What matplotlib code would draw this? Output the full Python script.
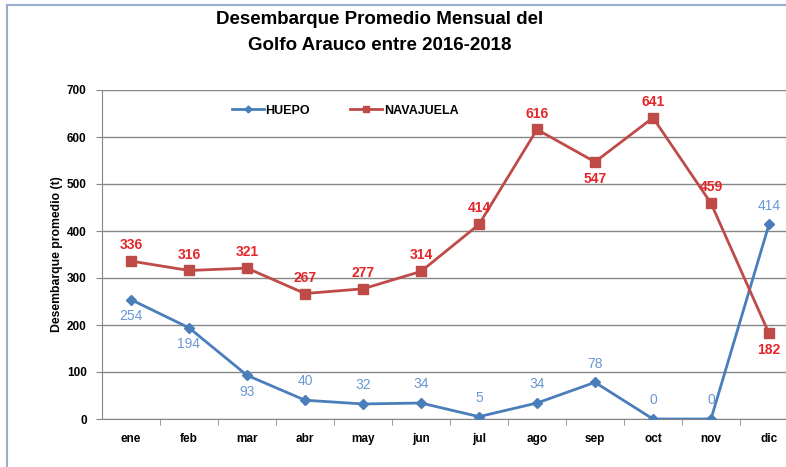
import numpy as np
import matplotlib.pyplot as plt
from matplotlib.lines import Line2D

months = ['ene', 'feb', 'mar', 'abr', 'may', 'jun', 'jul', 'ago', 'sep', 'oct', 'nov', 'dic']
huepo = [254, 194, 93, 40, 32, 34, 5, 34, 78, 0, 0, 414]
navajuela = [336, 316, 321, 267, 277, 314, 414, 616, 547, 641, 459, 182]
# label placement: True = above the point
huepo_above = [False, False, False, True, True, True, True, True, True, True, True, True]
nava_above = [True, True, True, True, True, True, True, True, False, True, True, False]

plt.rcParams['font.family'] = ['Liberation Sans', 'DejaVu Sans']

c_huepo = '#4a7ebb'
c_nava = '#be4b48'
c_huepo_lbl = '#6a98d4'
c_nava_lbl = '#e3262a'

fig = plt.figure(figsize=(7.86, 4.67), dpi=100)
ax = fig.add_axes([102 / 786, 1 - 419 / 467, 696 / 786, 329 / 467])

x = np.arange(len(months))
ax.plot(x, huepo, color=c_huepo, lw=2, marker='D', ms=5, label='HUEPO', zorder=3)
ax.plot(x, navajuela, color=c_nava, lw=2, marker='s', ms=7, label='NAVAJUELA', zorder=3)

for i, v in enumerate(huepo):
    off = 13.5 if huepo_above[i] else -12
    ax.annotate(str(v), (x[i], v), xytext=(0, off), textcoords='offset points',
                ha='center', va='center', fontsize=10, color=c_huepo_lbl)
for i, v in enumerate(navajuela):
    off = 11.5 if nava_above[i] else -12
    ax.annotate(str(v), (x[i], v), xytext=(0, off), textcoords='offset points',
                ha='center', va='center', fontsize=10, color=c_nava_lbl, fontweight='bold')

ax.set_xlim(-0.5, 11.5)
ax.set_ylim(0, 700)
ax.set_yticks(range(0, 701, 100))
ax.set_xticks(x)
ax.set_xticklabels(months, fontweight='bold', fontsize=8.5)
ax.set_xticks(np.arange(0.5, 11.5, 1), minor=True)
ax.tick_params(axis='x', which='major', length=0, pad=10)
ax.tick_params(axis='x', which='minor', length=4, color='#868686', direction='out')
ax.tick_params(axis='y', length=4, color='#868686', labelsize=8.5, pad=7)
for lbl in ax.get_yticklabels():
    lbl.set_fontweight('bold')

ax.grid(axis='y', color='#868686', lw=1)
ax.set_axisbelow(True)
for s in ['top', 'right']:
    ax.spines[s].set_visible(False)
for s in ['left', 'bottom']:
    ax.spines[s].set_color('#868686')

ax.set_ylabel('Desembarque promedio (t)', fontsize=8.8, fontweight='bold', labelpad=3)

leg = ax.legend(loc='upper left', bbox_to_anchor=(0.17, 0.99), ncol=2, frameon=False,
                handlelength=2.6, handletextpad=0.1, columnspacing=3.2, markerscale=0.7,
                prop={'weight': 'bold', 'size': 9})

fig.text(380 / 786, 1 - 20 / 467, 'Desembarque Promedio Mensual del', ha='center', va='center',
         fontsize=13.5, fontweight='bold')
fig.text(380 / 786, 1 - 45 / 467, 'Golfo Arauco entre 2016-2018', ha='center', va='center',
         fontsize=13.5, fontweight='bold')

# outer chart frame
fig.add_artist(Line2D([7 / 786, 7 / 786], [0, 1 - 5 / 467], color='#9aaecb', lw=1.5))
fig.add_artist(Line2D([7 / 786, 1], [1 - 5 / 467, 1 - 5 / 467], color='#9aaecb', lw=1.5))

fig.savefig('out.png', dpi=100)
